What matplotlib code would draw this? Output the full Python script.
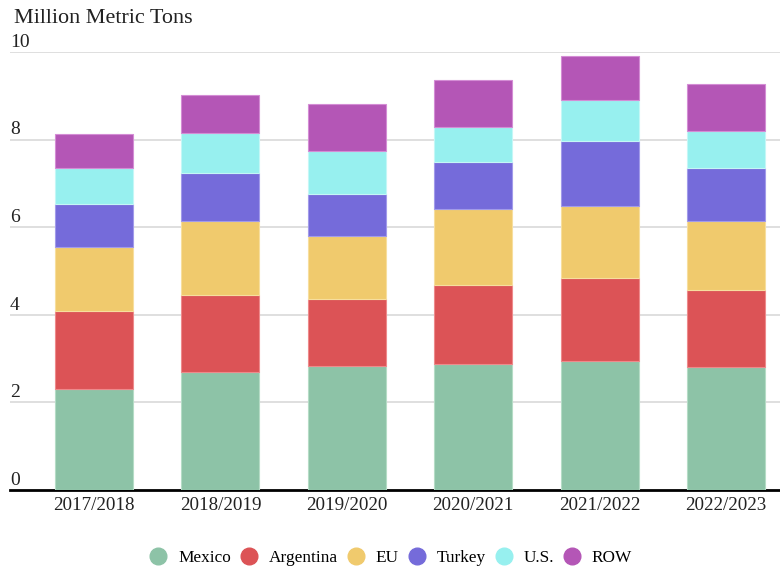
import matplotlib.pyplot as plt
from matplotlib.lines import Line2D
import numpy as np

plt.rcParams['font.family'] = ['Liberation Serif', 'DejaVu Serif']

# Marketing years on the x axis
years = ['2017/2018', '2018/2019', '2019/2020', '2020/2021', '2021/2022', '2022/2023']

# Volume by origin, million metric tons
mexico = [2.31, 2.69, 2.83, 2.88, 2.95, 2.81]
argentina = [1.78, 1.76, 1.53, 1.80, 1.89, 1.76]
eu = [1.46, 1.69, 1.44, 1.74, 1.64, 1.57]
turkey = [0.98, 1.10, 0.96, 1.07, 1.49, 1.21]
us = [0.82, 0.91, 0.98, 0.80, 0.93, 0.85]
row = [0.78, 0.87, 1.07, 1.07, 1.01, 1.07]

series = ['Mexico', 'Argentina', 'EU', 'Turkey', 'U.S.', 'ROW']
colors = ['#8DC3A7', '#DC5356', '#F0CA6D', '#756BDA', '#97F0EF', '#B456B6']
edges = ['#B5DCC6', '#EE8A8C', '#F7DE9E', '#A29BEA', '#C4F7F6', '#D48DD5']

fig = plt.figure(figsize=(7.8, 5.69), dpi=100)
ax = fig.add_axes([0.0128, 0.1388, 0.9872, 0.7698])

x = np.arange(len(years))
bottom = np.zeros(len(years))
for name, vals, c, ec in zip(series, [mexico, argentina, eu, turkey, us, row], colors, edges):
    ax.bar(x, vals, width=0.617, bottom=bottom, color=c, edgecolor=ec, linewidth=0.8, zorder=3)
    bottom += np.array(vals)

ax.set_xlim(-0.665, 5.427)
ax.set_ylim(0, 10)

# gridlines with labels sitting above them
for t in [2, 4, 6, 8, 10]:
    ax.axhline(t, color='#D9D9D9', lw=1.2, zorder=1)
for t in [0, 2, 4, 6, 8, 10]:
    ax.text(0, t + 0.03, str(t), transform=ax.get_yaxis_transform(),
            ha='left', va='bottom', fontsize=14, color='#222222')

ax.set_yticks([])
ax.set_xticks(x)
ax.set_xticklabels(years, fontsize=13.7, color='#222222')
ax.tick_params(axis='x', length=0, pad=5)
for s in ['top', 'right', 'left']:
    ax.spines[s].set_visible(False)
ax.spines['bottom'].set_linewidth(2)
ax.spines['bottom'].set_color('black')

fig.text(0.018, 0.985, 'Million Metric Tons', ha='left', va='top', fontsize=15.9, color='#222222')

handles = [Line2D([0], [0], marker='o', color='none', markerfacecolor=c, markeredgecolor=c,
                  markersize=12) for c in colors]
fig.legend(handles, series, loc='center', bbox_to_anchor=(0.5, 0.019), ncol=6, frameon=False,
           fontsize=12.4, handletextpad=0.55, columnspacing=0.45, handlelength=1.2)

fig.savefig('out.png', dpi=100)
